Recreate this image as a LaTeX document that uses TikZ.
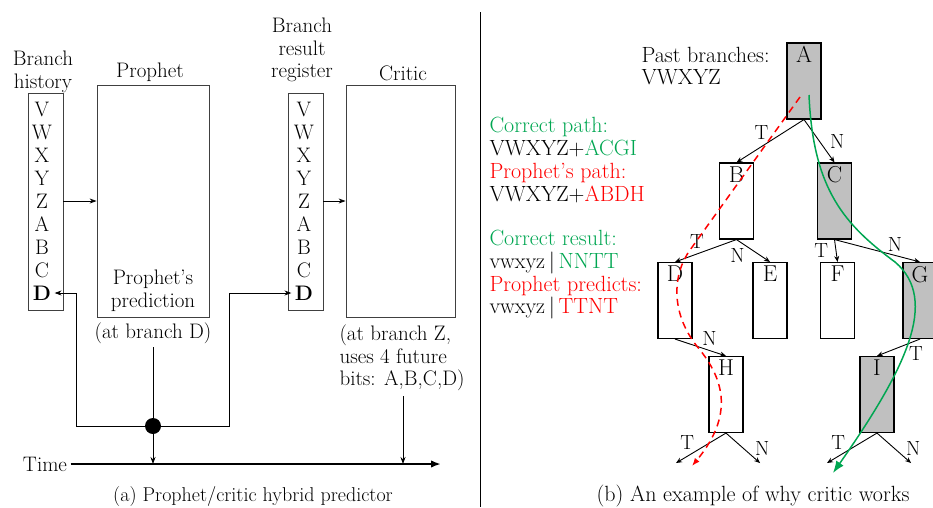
\documentclass[tikz,border=0pt]{standalone}
\usepackage{xcolor}
\usepackage{tikz}
\usetikzlibrary{arrows.meta}
\usetikzlibrary{positioning}

\definecolor{okgreen}{RGB}{0,166,81}
\definecolor{takenbox}{RGB}{192,192,192}

\tikzset{
  regbox/.style={draw=black!75, line width=0.8pt, minimum width=35pt, minimum height=217pt},
  unit/.style={draw=black!75, line width=0.8pt, minimum width=112pt, minimum height=232pt},
  br/.style={draw, line width=1.1pt, minimum width=34pt, minimum height=76pt,
    label={[anchor=north, inner sep=4pt, font=\fontsize{23}{27}\selectfont]north:#1}},
  taken/.style={fill=takenbox},
  lab/.style={inner sep=1.5pt, font=\fontsize{20.5}{24}\selectfont},
  bigtext/.style={font=\fontsize{22}{22.7}\selectfont},
}

\begin{document}
\begin{tikzpicture}[x=1pt, y=-1pt, font=\fontsize{21}{22.7}\selectfont,
    >={Stealth[length=7pt,width=5pt]}]
  \useasboundingbox (0,0) rectangle (933,507);

  % (a) prophet/critic hybrid
  \node[regbox] (hist) at (45.5,201.5) {};
  \node[align=center] (histlab) at (43,72) {Branch\\history};
  \node (hV) at (42,109) {V};
  \node (hW) at (42,132) {W};
  \node (hX) at (42,155) {X};
  \node (hY) at (42,178) {Y};
  \node (hZ) at (42,201) {Z};
  \node (hA) at (42,224) {A};
  \node (hB) at (42,247) {B};
  \node (hC) at (42,270) {C};
  \node (hD) at (42,293) {\textbf{D}};

  \node[unit] (proph) at (153,201) {};
  \node (prophlab) at (150,72) {Prophet};
  \node[align=center] (pred) at (153,291) {Prophet’s\\prediction};
  \node (atD) at (153,333) {(at branch D)};

  \node[regbox] (reg) at (305.5,201.5) {};
  \node[align=center] (reglab) at (302,50) {Branch\\result\\register};
  \node (rV) at (304,109) {V};
  \node (rW) at (304,132) {W};
  \node (rX) at (304,155) {X};
  \node (rY) at (304,178) {Y};
  \node (rZ) at (304,201) {Z};
  \node (rA) at (304,224) {A};
  \node (rB) at (304,247) {B};
  \node (rC) at (304,270) {C};
  \node (rD) at (304,293) {\textbf{D}};

  \node[unit, minimum width=109pt] (crit) at (400.5,201) {};
  \node (critlab) at (403,73) {Critic};
  \node[align=left, anchor=west] (critnote) at (336,358) {(at branch Z,\\uses 4 future\\bits: A,B,C,D)};

  \node (time) at (45,464) {Time};
  \coordinate (tend) at (441,465);
  \node[circle, fill, minimum size=16pt, inner sep=0pt] (dot) at (153,426) {};
  \coordinate (critdrop) at (403,396);

  \draw[->, line width=0.8pt] (hist.east |- hZ) -- (proph.west |- hZ);
  \draw[->, line width=0.8pt] (reg.east |- rZ) -- (crit.west |- rZ);
  \draw[-{Latex[length=10pt]}, line width=2pt] (time.east) -- (time.east -| tend);
  \draw[line width=0.8pt] (atD.south) -- (dot);
  \draw[->, line width=0.8pt] (dot) -- (dot |- time);
  \draw[->, line width=0.8pt] (critdrop) -- (critdrop |- time);
  \draw[->, line width=0.8pt] (dot) -| ([xshift=22pt]hD.east) -- (hD.east);
  \draw[->, line width=0.8pt] (dot) -| ([xshift=-62pt]rD.west) -- (rD.west);

  \node[font=\fontsize{20}{22.7}\selectfont] (capa) at (253,496) {(a) Prophet/critic hybrid predictor};

  \draw[line width=1pt] (480,12) -- (480,507);

  % (b) why the critic works
  \node[bigtext, align=left, anchor=west] (past) at (638,66) {Past branches:\\VWXYZ};
  \node[bigtext, align=left, anchor=west] (paths) at (486,160)
    {\textcolor{okgreen}{Correct path:}\\VWXYZ+\textcolor{okgreen}{ACGI}\\
     \textcolor{red}{Prophet’s path:}\\VWXYZ+\textcolor{red}{ABDH}};
  \node[bigtext, align=left, anchor=west] (results) at (486,275)
    {\textcolor{okgreen}{Correct result:}\\vwxyz\,|\,\textcolor{okgreen}{NNTT}\\
     \textcolor{red}{Prophet predicts:}\\vwxyz\,|\,\textcolor{red}{TTNT}};

  \node[br=A, taken] (brA) at (804,81) {};
  \node[br=B] (brB) at (736.5,201) {};
  \node[br=C, taken] (brC) at (834.5,201) {};
  \node[br=D] (brD) at (675,300.5) {};
  \node[br=E] (brE) at (770,300.5) {};
  \node[br=F] (brF) at (837.5,300.5) {};
  \node[br=G, taken] (brG) at (920,300.5) {};
  \node[br=H] (brH) at (726,394.5) {};
  \node[br=I, taken] (brI) at (877,394.5) {};
  \coordinate (hT) at (676,463);
  \coordinate (hN) at (760,463);
  \coordinate (iT) at (827,463);
  \coordinate (iN) at (911,463);

  \begin{scope}[line width=0.9pt, >={Stealth[length=6pt,width=5pt]}]
    \path [->] (brA.south) edge node[lab, above left] {T} (brB.north)
                           edge node[lab, right=9pt] {N} (brC.north);
    \path [->] (brB.south) edge node[lab, above left] {T} (brD.north)
                           edge node[lab, pos=0.3, below left] {N} (brE.north);
    \path [->] (brC.south) edge node[lab, left=6pt] {T} (brF.north)
                           edge node[lab, pos=0.6, above right] {N} (brG.north);
    \path [->] (brD.south) edge node[lab, above right] {N} (brH.north);
    \path [->] (brG.south) edge node[lab, pos=0.3, below right] {T} (brI.north);
    \path [->] (brH.south) edge node[lab, pos=0.6, above left] {T} (hT)
                           edge node[lab, pos=0.8, above right] {N} (hN);
    \path [->] (brI.south) edge node[lab, pos=0.6, above left] {T} (iT)
                           edge node[lab, pos=0.8, above right] {N} (iN);
  \end{scope}

  \draw[red, line width=1.5pt, dash pattern=on 7pt off 5pt, -{Latex[length=8pt]}]
    (800,97) -- (690,250) .. controls (672,275) and (670,315) .. (700,350)
    .. controls (728,385) and (730,420) .. (692,466);
  \draw[okgreen, line width=1.5pt, -{Latex[length=12pt,width=9pt]}]
    (809,95) .. controls (813,190) and (845,225) .. (895,262)
    .. controls (940,300) and (905,370) .. (833,473);

  \node[bigtext] (capb) at (753,496) {(b) An example of why critic works};
\end{tikzpicture}
\end{document}
